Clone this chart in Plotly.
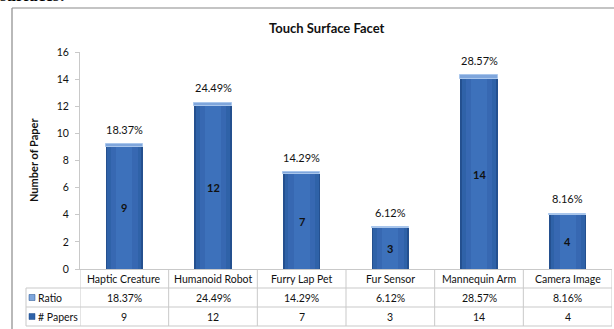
import plotly.graph_objects as go

# Touch surface facet: number of papers per surface type and their share
categories = ["Haptic Creature", "Humanoid Robot", "Furry Lap Pet",
              "Fur Sensor", "Mannequin Arm", "Camera Image"]
papers = [9, 12, 7, 3, 14, 4]
ratio = [0.1837, 0.2449, 0.1429, 0.0612, 0.2857, 0.0816]
series_names = ["Ratio", "# Papers"]
y_ticks = [0, 2, 4, 6, 8, 10, 12, 14, 16]

W, H = 614, 329
L, R, T, B = 80, 2, 52, 60
PW, PH = W - L - R, H - T - B


def px_x(p):
    return (p - L) / PW


def px_y(p):
    return (H - B - p) / PH


FONT = "Lato"
TXT = "#111111"
GRID = "#c9c9c9"

fig = go.Figure()
x = list(range(len(categories)))

# layered bars give the shaded cylinder look of the columns
layers = [(0.42, "#24508f"), (0.38, "#2f62a8"), (0.30, "#3768b2"), (0.18, "#3d71bb")]
for w, c in layers:
    fig.add_bar(x=x, y=papers, width=w, marker=dict(color=c, line=dict(width=0)),
                hoverinfo="skip", showlegend=False)

# the ratio series stacked on top as a light cap
fig.add_bar(x=x, y=ratio, base=papers, width=0.42,
            marker=dict(color="#7fa6dc", line=dict(color="#a9c6ec", width=1)),
            showlegend=False, hoverinfo="skip")


def label(text, xv, yv, xref="x", yref="y", size=10.5, xanchor="center", **kw):
    fig.add_annotation(x=xv, y=yv, xref=xref, yref=yref, text=text, showarrow=False,
                       xanchor=xanchor, yanchor="middle",
                       font=dict(family=FONT, size=size, color=TXT), **kw)


# count labels in the middle of each column
for i, v in enumerate(papers):
    label(f"<b>{v}</b>", i, v / 2, size=11)
# percentage labels above each column
for i, (v, r) in enumerate(zip(papers, ratio)):
    label(f"{r * 100:.2f}%", i, v + r, yshift=15, size=11)

# data table under the plot
row_cat, row_ratio, row_pap = px_y(279), px_y(297.5), px_y(316.5)
for i, (c, v, r) in enumerate(zip(categories, papers, ratio)):
    label(c, i, row_cat, yref="paper")
    label(f"{r * 100:.2f}%", i, row_ratio, yref="paper")
    label(str(v), i, row_pap, yref="paper")

y_rows = [px_y(288), px_y(307), px_y(326)]
for yy in y_rows:
    fig.add_shape(type="line", xref="paper", yref="paper", x0=px_x(26), x1=1,
                  y0=yy, y1=yy, line=dict(color=GRID, width=1))
for k in range(len(categories) + 1):
    fig.add_shape(type="line", xref="x", yref="paper", x0=k - 0.5, x1=k - 0.5,
                  y0=0, y1=y_rows[-1], line=dict(color=GRID, width=1))
fig.add_shape(type="line", xref="paper", yref="paper", x0=px_x(26), x1=px_x(26),
              y0=y_rows[0], y1=y_rows[-1], line=dict(color=GRID, width=1))

# legend keys inside the table
key_cols = ["#7fa6dc", "#2f62a8"]
for name, col, yc in zip(series_names, key_cols, [row_ratio, row_pap]):
    fig.add_shape(type="rect", xref="paper", yref="paper",
                  x0=px_x(29), x1=px_x(35), y0=yc - 3 / PH, y1=yc + 3 / PH,
                  fillcolor=col, line=dict(color="#1f4f8f", width=0.5))
    label(name, px_x(36), yc, xref="paper", yref="paper", xanchor="left")

# outer chart frame (top and left edges show)
fig.add_shape(type="line", xref="paper", yref="paper", x0=px_x(12), x1=px_x(614),
              y0=px_y(8), y1=px_y(8), line=dict(color="#8a8a8a", width=1.2))
fig.add_shape(type="line", xref="paper", yref="paper", x0=px_x(12), x1=px_x(12),
              y0=px_y(8), y1=px_y(329), line=dict(color="#8a8a8a", width=1.2))

label("<b>Touch Surface Facet</b>", px_x(327), px_y(28), xref="paper", yref="paper",
      size=13)
label("<b>Number of Paper</b>", px_x(33), px_y(160), xref="paper", yref="paper",
      size=11, textangle=-90)
fig.add_annotation(xref="paper", yref="paper", x=px_x(-2), y=px_y(7), xanchor="left",
                   yanchor="bottom", text="<b>surfaces:</b>", showarrow=False,
                   font=dict(family="Liberation Serif", size=17, color="#000"))

fig.update_layout(
    width=W, height=H, barmode="overlay", bargap=0,
    margin=dict(l=L, r=R, t=T, b=B),
    paper_bgcolor="white", plot_bgcolor="white",
    showlegend=False,
    xaxis=dict(range=[-0.5, len(categories) - 0.5], tickvals=x,
               ticktext=[""] * len(categories),
               showline=True, linecolor=GRID, ticks="", showgrid=False, zeroline=False),
    yaxis=dict(range=[0, 16], tickvals=y_ticks, showline=True, linecolor=GRID,
               ticks="outside", ticklen=4, tickcolor=GRID, showgrid=False,
               zeroline=False, tickfont=dict(family=FONT, size=10.5, color=TXT),
               ticklabelstandoff=4),
)

fig.write_html("out.html")
